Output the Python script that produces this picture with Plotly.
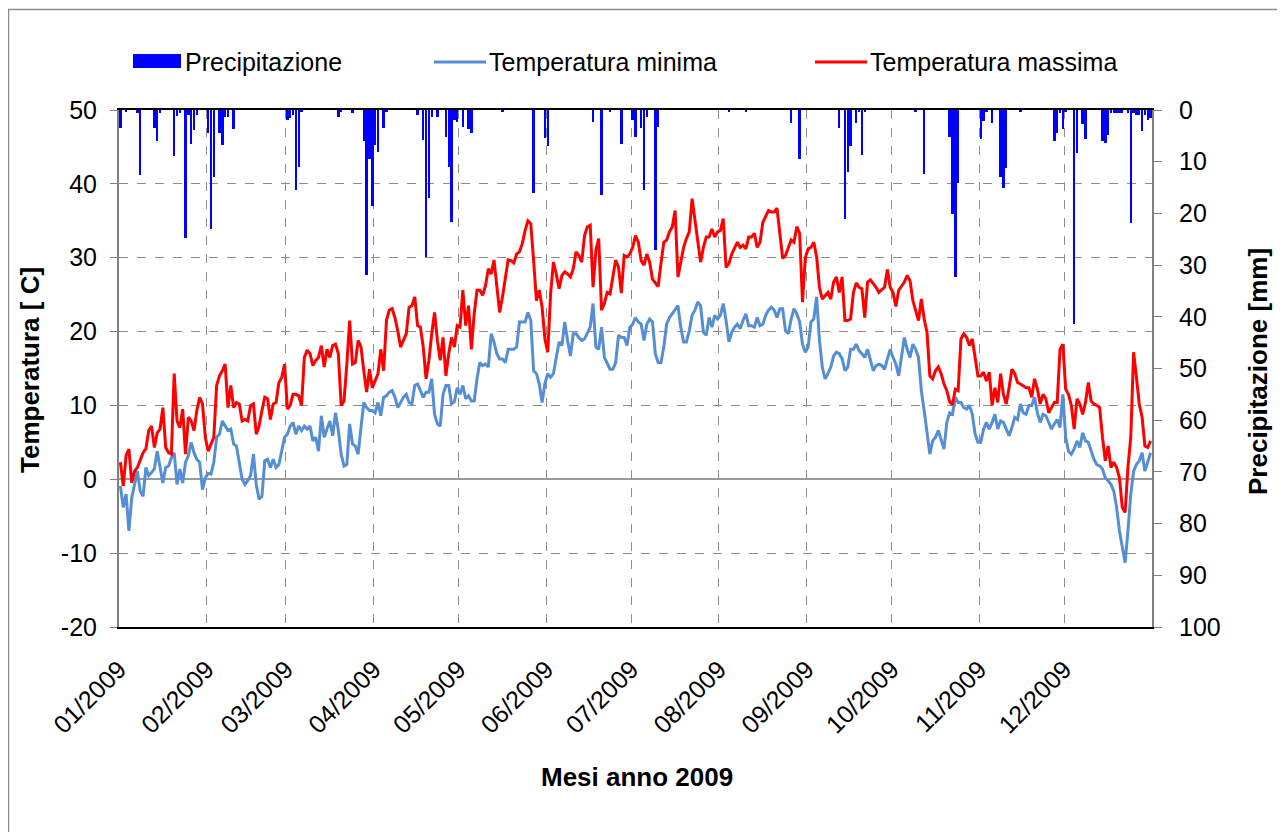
import plotly.graph_objects as go
import pandas as pd

# temperature minime giornaliere 2009 (una riga per mese)
tmin = [
    -0.9, -3.8, -2.0, -7.0, -2.5, -0.7, 1.1, -1.6, -2.3, 1.6, 0.5, 0.9, 1.4, 3.8, 1.6, -0.5, 1.6, 1.8, 2.9, 3.6, -0.7, 1.4, -0.5, 2.3, 3.2, 5.0, 3.6, 2.7, 2.3, -1.4, 0.2,
    0.8, 0.7, 2.3, 5.7, 6.1, 7.9, 7.2, 6.6, 6.8, 4.8, 4.5, 2.0, 0.0, -0.7, -0.2, 0.5, 3.4, -0.7, -2.7, -2.3, 2.5, 2.7, 1.6, 2.7, 1.6, 2.0, 3.8, 5.7,
    6.1, 7.2, 7.7, 6.1, 7.2, 6.6, 7.2, 6.8, 7.2, 5.2, 5.7, 3.8, 8.6, 5.7, 6.8, 7.9, 5.9, 9.0, 6.6, 3.4, 1.8, 2.0, 7.5, 4.8, 4.5, 3.4, 7.0, 10.4, 9.7, 9.3, 9.3,
    9.0, 10.4, 8.6, 11.1, 11.3, 11.8, 12.0, 11.1, 9.7, 10.4, 11.1, 11.5, 10.4, 10.2, 12.7, 12.9, 12.0, 11.1, 11.8, 11.8, 13.6, 8.8, 7.5, 7.2, 11.5, 12.7, 12.7, 10.2, 10.5, 12.4,
    11.5, 12.7, 10.9, 11.3, 10.6, 10.6, 13.6, 15.8, 15.4, 15.6, 15.2, 19.7, 18.6, 17.0, 16.3, 16.3, 15.8, 17.6, 17.6, 17.6, 17.9, 21.3, 21.3, 21.3, 22.6, 21.5, 14.7, 14.3, 12.9, 10.4, 13.0,
    14.3, 13.8, 14.3, 16.5, 18.6, 18.1, 21.3, 18.8, 16.7, 19.7, 19.7, 19.2, 18.8, 19.0, 19.9, 20.6, 23.8, 17.9, 17.6, 20.6, 16.5, 15.6, 14.9, 14.9, 15.8, 19.5, 19.2, 19.2, 18.1, 20.6,
    21.0, 21.9, 21.3, 21.0, 18.8, 21.0, 21.7, 21.3, 17.0, 15.8, 15.8, 17.9, 21.0, 21.9, 22.4, 23.0, 23.5, 20.6, 18.6, 18.6, 20.1, 22.2, 22.9, 24.0, 23.5, 19.9, 19.5, 21.9, 20.6, 22.2, 21.7,
    22.2, 23.8, 21.5, 18.6, 19.9, 20.6, 21.0, 20.4, 21.5, 22.4, 20.8, 20.8, 20.6, 21.9, 20.8, 21.0, 22.2, 22.9, 23.3, 22.9, 21.9, 23.1, 23.1, 20.1, 19.7, 21.7, 23.1, 22.4, 21.3, 18.3, 17.2,
    17.9, 21.3, 21.7, 24.7, 18.8, 15.2, 13.6, 14.3, 15.2, 16.7, 17.2, 17.0, 16.3, 14.7, 15.2, 17.6, 17.6, 18.3, 17.4, 17.0, 16.5, 17.6, 16.1, 14.7, 15.4, 15.6, 15.4, 14.9, 16.3, 17.6,
    16.5, 15.6, 14.0, 16.7, 19.2, 17.6, 16.5, 18.3, 17.6, 16.5, 12.0, 9.3, 6.1, 3.4, 5.2, 5.7, 6.6, 5.2, 4.1, 7.7, 9.0, 8.8, 11.1, 10.4, 10.4, 9.7, 9.5, 10.0, 8.8, 6.1, 5.0,
    5.0, 6.8, 7.7, 6.8, 7.7, 8.8, 6.8, 7.9, 7.7, 6.8, 5.9, 7.0, 8.4, 8.1, 10.2, 9.0, 8.8, 10.0, 10.0, 11.1, 9.0, 7.7, 8.8, 8.6, 7.7, 6.8, 7.5, 8.1, 7.0, 11.5,
    5.7, 3.8, 3.4, 4.1, 5.2, 4.3, 6.3, 5.2, 5.0, 3.8, 2.7, 2.0, 1.8, 1.4, 0.2, -0.2, -0.7, -1.6, -3.8, -7.0, -9.3, -11.3, -7.0, -2.0, 1.1, 2.0, 2.5, 3.6, 1.1, 2.3, 3.6,
]

# temperature massime giornaliere 2009
tmax = [
    2.3, -0.9, 3.2, 4.1, -0.5, 1.1, 1.6, 2.5, 3.6, 4.1, 6.6, 7.2, 4.3, 6.3, 6.8, 9.7, 4.3, 3.6, 3.4, 14.3, 7.9, 7.0, 9.5, 3.4, 8.4, 7.9, 6.6, 9.3, 11.1, 10.2, 5.7,
    3.8, 4.8, 5.7, 12.7, 14.0, 14.7, 15.6, 9.7, 12.7, 9.7, 10.4, 10.2, 7.9, 8.1, 7.9, 10.0, 10.2, 6.1, 7.2, 9.3, 11.1, 10.9, 8.1, 10.2, 10.4, 13.1, 13.8, 15.6,
    9.5, 10.0, 11.5, 11.5, 11.3, 10.0, 16.5, 17.5, 17.0, 15.4, 16.1, 16.5, 18.1, 15.2, 17.6, 16.5, 18.1, 18.3, 17.0, 10.0, 10.6, 15.6, 21.5, 15.6, 15.8, 18.8, 17.9, 14.7, 11.8, 14.9, 12.4,
    13.3, 14.3, 17.6, 14.7, 21.5, 22.9, 23.1, 21.9, 20.1, 17.9, 18.8, 19.7, 23.3, 23.5, 24.7, 20.8, 20.6, 17.9, 13.6, 16.1, 19.7, 22.6, 18.8, 16.1, 19.2, 14.0, 17.0, 19.2, 17.9, 20.8,
    20.6, 25.6, 20.8, 23.5, 17.6, 22.4, 25.6, 25.6, 24.9, 26.2, 28.5, 27.8, 29.7, 26.0, 22.6, 24.7, 27.4, 29.7, 29.6, 29.3, 30.5, 30.8, 31.9, 33.7, 35.0, 34.6, 29.6, 24.2, 25.6, 23.3, 19.0,
    17.2, 25.1, 29.4, 27.8, 25.8, 27.6, 28.1, 27.8, 27.4, 28.5, 30.8, 30.3, 29.4, 33.0, 34.2, 34.4, 26.0, 31.0, 32.6, 22.9, 23.8, 25.3, 25.1, 27.4, 29.7, 28.7, 25.2, 30.3, 30.1, 30.5,
    31.4, 33.0, 32.1, 29.6, 29.0, 30.5, 29.4, 27.1, 26.6, 26.1, 29.2, 32.1, 32.4, 33.5, 34.2, 36.4, 27.4, 29.2, 31.4, 32.6, 33.5, 38.0, 35.1, 31.7, 29.4, 31.4, 32.8, 32.8, 33.9, 32.8, 33.5,
    33.7, 35.3, 28.7, 29.2, 30.5, 31.2, 32.1, 31.4, 31.7, 31.2, 32.8, 32.8, 33.3, 31.4, 32.1, 34.8, 35.7, 36.4, 36.2, 36.2, 36.7, 33.3, 29.9, 30.3, 31.4, 32.4, 32.1, 34.2, 33.3, 24.0, 30.0,
    31.2, 31.4, 32.1, 30.1, 26.0, 24.4, 24.9, 25.3, 24.4, 26.7, 27.4, 25.3, 27.4, 21.5, 21.5, 21.7, 25.3, 26.6, 26.0, 25.8, 21.9, 26.7, 27.0, 26.5, 26.0, 25.3, 25.7, 26.0, 28.4, 26.0,
    25.3, 23.4, 25.6, 26.2, 26.7, 27.6, 26.9, 24.2, 22.9, 21.5, 24.4, 21.7, 19.9, 14.0, 13.6, 14.7, 15.2, 14.3, 12.9, 12.0, 10.5, 10.1, 12.2, 12.0, 19.0, 19.7, 19.2, 18.1, 19.0, 16.5, 14.0,
    14.0, 14.5, 13.3, 14.5, 10.0, 12.4, 10.4, 14.3, 11.5, 10.2, 12.4, 14.9, 14.3, 13.1, 12.9, 12.7, 12.4, 12.4, 11.1, 13.6, 12.2, 10.2, 11.5, 10.9, 9.0, 9.7, 10.4, 10.4, 17.6, 18.3,
    12.2, 11.5, 10.0, 6.8, 10.9, 10.2, 8.8, 10.4, 13.1, 10.6, 10.2, 10.0, 9.7, 5.7, 2.5, 4.5, 1.6, 2.3, 1.6, 0.2, -3.8, -4.5, 1.6, 5.7, 17.2, 13.8, 10.2, 8.4, 4.5, 4.3, 5.2,
]

# giorni piovosi e precipitazione [mm]
rain_days = [
    "01-01", "01-03", "01-07", "01-08", "01-13", "01-14", "01-15", "01-20", "01-21", "01-22", "01-24", "01-25", "01-26", "01-27", "01-28",
    "02-01", "02-02", "02-03", "02-05", "02-06", "02-07", "02-08", "02-10",
    "03-01", "03-02", "03-03", "03-04", "03-05", "03-06", "03-19", "03-20", "03-24", "03-28", "03-29", "03-30", "03-31",
    "04-01", "04-02", "04-04", "04-05", "04-16", "04-18", "04-19", "04-20", "04-21", "04-23", "04-26", "04-27", "04-28", "04-29", "04-30",
    "05-02", "05-04", "05-05", "05-16", "05-27", "05-31",
    "06-01", "06-17", "06-20", "06-23", "06-27",
    "07-01", "07-02", "07-04", "07-05", "07-06", "07-09", "07-10",
    "08-04", "08-10", "08-26", "08-29",
    "09-12", "09-14", "09-15", "09-16", "09-18", "09-19", "09-20", "09-21",
    "10-09", "10-12", "10-21", "10-22", "10-23", "10-24",
    "11-01", "11-02", "11-03", "11-05", "11-08", "11-09", "11-10", "11-15", "11-27", "11-28", "11-29", "11-30",
    "12-01", "12-04", "12-05", "12-07", "12-08", "12-14", "12-15", "12-16", "12-17", "12-18", "12-19", "12-20", "12-21",
    "12-23", "12-24", "12-25", "12-26", "12-27", "12-28", "12-29", "12-30", "12-31",
]
rain_mm = [
    3.4, 0.3, 0.5, 12.6, 3.4, 5.9, 0.5, 8.9, 1.2, 0.6, 24.8, 1.0, 6.5, 3.9, 1.0,
    4.5, 23.1, 12.9, 4.5, 6.8, 1.3, 1.3, 3.7,
    1.9, 1.6, 1.0, 15.4, 11.0, 0.3, 1.4, 0.3, 0.5, 5.9, 31.9, 9.4, 18.6,
    6.8, 8.1, 3.4, 0.3, 1.0, 5.8, 28.4, 17.1, 1.3, 1.3, 5.3, 11.0, 21.6, 1.9, 2.3,
    3.2, 3.7, 4.5, 0.3, 16.0, 5.5,
    7.0, 2.3, 16.5, 0.3, 6.5,
    1.9, 5.3, 3.4, 15.4, 1.4, 27.1, 3.2,
    0.3, 0.3, 2.6, 9.4,
    3.4, 21.0, 11.9, 7.0, 2.6, 0.3, 8.7, 0.3,
    0.3, 12.3, 5.2, 20.1, 32.3, 14.2,
    5.7, 2.1, 0.3, 2.6, 12.9, 15.0, 11.3, 0.3, 5.9, 4.5, 0.6, 3.7,
    0.3, 41.3, 8.3, 2.7, 5.7, 5.9, 6.3, 4.8, 0.6, 0.5, 0.5, 0.5, 0.5,
    0.6, 21.9, 0.6, 1.0, 1.0, 4.0, 1.0, 1.9, 1.6,
]

temp_ticks = [-20, -10, 0, 10, 20, 30, 40, 50]
rain_ticks = [0, 10, 20, 30, 40, 50, 60, 70, 80, 90, 100]
month_ticks = pd.date_range("2009-01-01", periods=12, freq="MS")

days = pd.date_range("2009-01-01 12:00", periods=len(tmin), freq="D")
rain_x = pd.to_datetime(["2009-" + d + " 12:00" for d in rain_days])

FONT = "Arial, Liberation Sans, sans-serif"
C_MIN = "#558ED5"
C_MAX = "#FF0000"
C_RAIN = "#0000FF"

# la pagina ha un margine di 8 px: la figura parte da (8, 8)
OFF = 8
W, H = 1285 - OFF, 832 - OFF
# area grafico in coordinate pagina
L, R, T, B = 119, 1152, 110, 627


def px_x(x):
    return (x - L) / (R - L)


def px_y(y):
    return (B - y) / (B - T)


fig = go.Figure()

fig.add_trace(go.Bar(
    x=rain_x, y=rain_mm, yaxis="y2",
    marker_color=C_RAIN, marker_line_width=0,
    width=86400000 * 0.85,
    name="Precipitazione", showlegend=False,
))
fig.add_trace(go.Scatter(
    x=days, y=tmin, mode="lines",
    line=dict(color=C_MIN, width=3),
    name="Temperatura minima", showlegend=False,
))
fig.add_trace(go.Scatter(
    x=days, y=tmax, mode="lines",
    line=dict(color=C_MAX, width=3),
    name="Temperatura massima", showlegend=False,
))

fig.update_layout(
    width=W, height=H, autosize=False,
    margin=dict(l=L - OFF, r=W - (R - OFF), t=T - OFF, b=H - (B - OFF)),
    paper_bgcolor="white", plot_bgcolor="white",
    font=dict(family=FONT, size=25, color="black"),
    xaxis=dict(
        type="date",
        range=["2009-01-01", "2010-01-01"],
        tickmode="array",
        tickvals=month_ticks,
        ticktext=[d.strftime("%m/%Y") for d in month_ticks],
        tickangle=-45,
        ticks="",
        ticklabelstandoff=16,
        showgrid=True, gridcolor="#8c8c8c", griddash="dash", gridwidth=1,
        showline=True, linecolor="black", linewidth=1.5, mirror=True,
        zeroline=False,
        tickfont=dict(size=25),
    ),
    yaxis=dict(
        range=[-20, 50],
        tickmode="array", tickvals=temp_ticks, ticktext=[str(v) for v in temp_ticks],
        ticks="outside", ticklen=7, tickcolor="#808080",
        ticklabelstandoff=8,
        showgrid=True, gridcolor="#8c8c8c", griddash="dash", gridwidth=1,
        zeroline=True, zerolinecolor="#999999", zerolinewidth=2,
        showline=True, linecolor="#808080", linewidth=2,
        tickfont=dict(size=25),
    ),
    yaxis2=dict(
        range=[100, 0],
        tickmode="array", tickvals=rain_ticks, ticktext=[str(v) for v in rain_ticks],
        overlaying="y", side="right",
        ticks="outside", ticklen=8, tickcolor="#808080",
        ticklabelstandoff=12,
        showgrid=False, zeroline=False,
        showline=True, linecolor="#808080", linewidth=2,
        tickfont=dict(size=25),
    ),
    bargap=0,
)

# cornice esterna del grafico
fig.add_shape(type="rect", xref="paper", yref="paper",
              x0=px_x(8.5), x1=px_x(1300), y0=px_y(850), y1=px_y(9.5),
              line=dict(color="#8a8a8a", width=1.5), fillcolor="rgba(0,0,0,0)", layer="below")

# legenda personalizzata
fig.add_shape(type="rect", xref="paper", yref="paper",
              x0=px_x(133), x1=px_x(181), y0=px_y(68), y1=px_y(54),
              line=dict(width=0), fillcolor=C_RAIN)
fig.add_shape(type="line", xref="paper", yref="paper",
              x0=px_x(434), x1=px_x(486), y0=px_y(62), y1=px_y(62),
              line=dict(color=C_MIN, width=3))
fig.add_shape(type="line", xref="paper", yref="paper",
              x0=px_x(815), x1=px_x(867), y0=px_y(62), y1=px_y(62),
              line=dict(color=C_MAX, width=3))

legend_items = [("Precipitazione", 183), ("Temperatura minima", 487), ("Temperatura massima", 868)]
for label, xpos in legend_items:
    fig.add_annotation(text=label, xref="paper", yref="paper",
                       x=px_x(xpos), y=px_y(62), xanchor="left", yanchor="middle",
                       showarrow=False, font=dict(size=25))

# titoli degli assi
fig.add_annotation(text="<b>Temperatura [ C]</b>", xref="paper", yref="paper",
                   x=px_x(30), y=px_y(370), textangle=-90, showarrow=False,
                   xanchor="center", yanchor="middle", font=dict(size=26))
fig.add_annotation(text="<b>Precipitazione [mm]</b>", xref="paper", yref="paper",
                   x=px_x(1258), y=px_y(372), textangle=-90, showarrow=False,
                   xanchor="center", yanchor="middle", font=dict(size=26))
fig.add_annotation(text="<b>Mesi anno 2009</b>", xref="paper", yref="paper",
                   x=px_x(637), y=px_y(777), showarrow=False,
                   xanchor="center", yanchor="middle", font=dict(size=26))

fig.write_html("out.html")
